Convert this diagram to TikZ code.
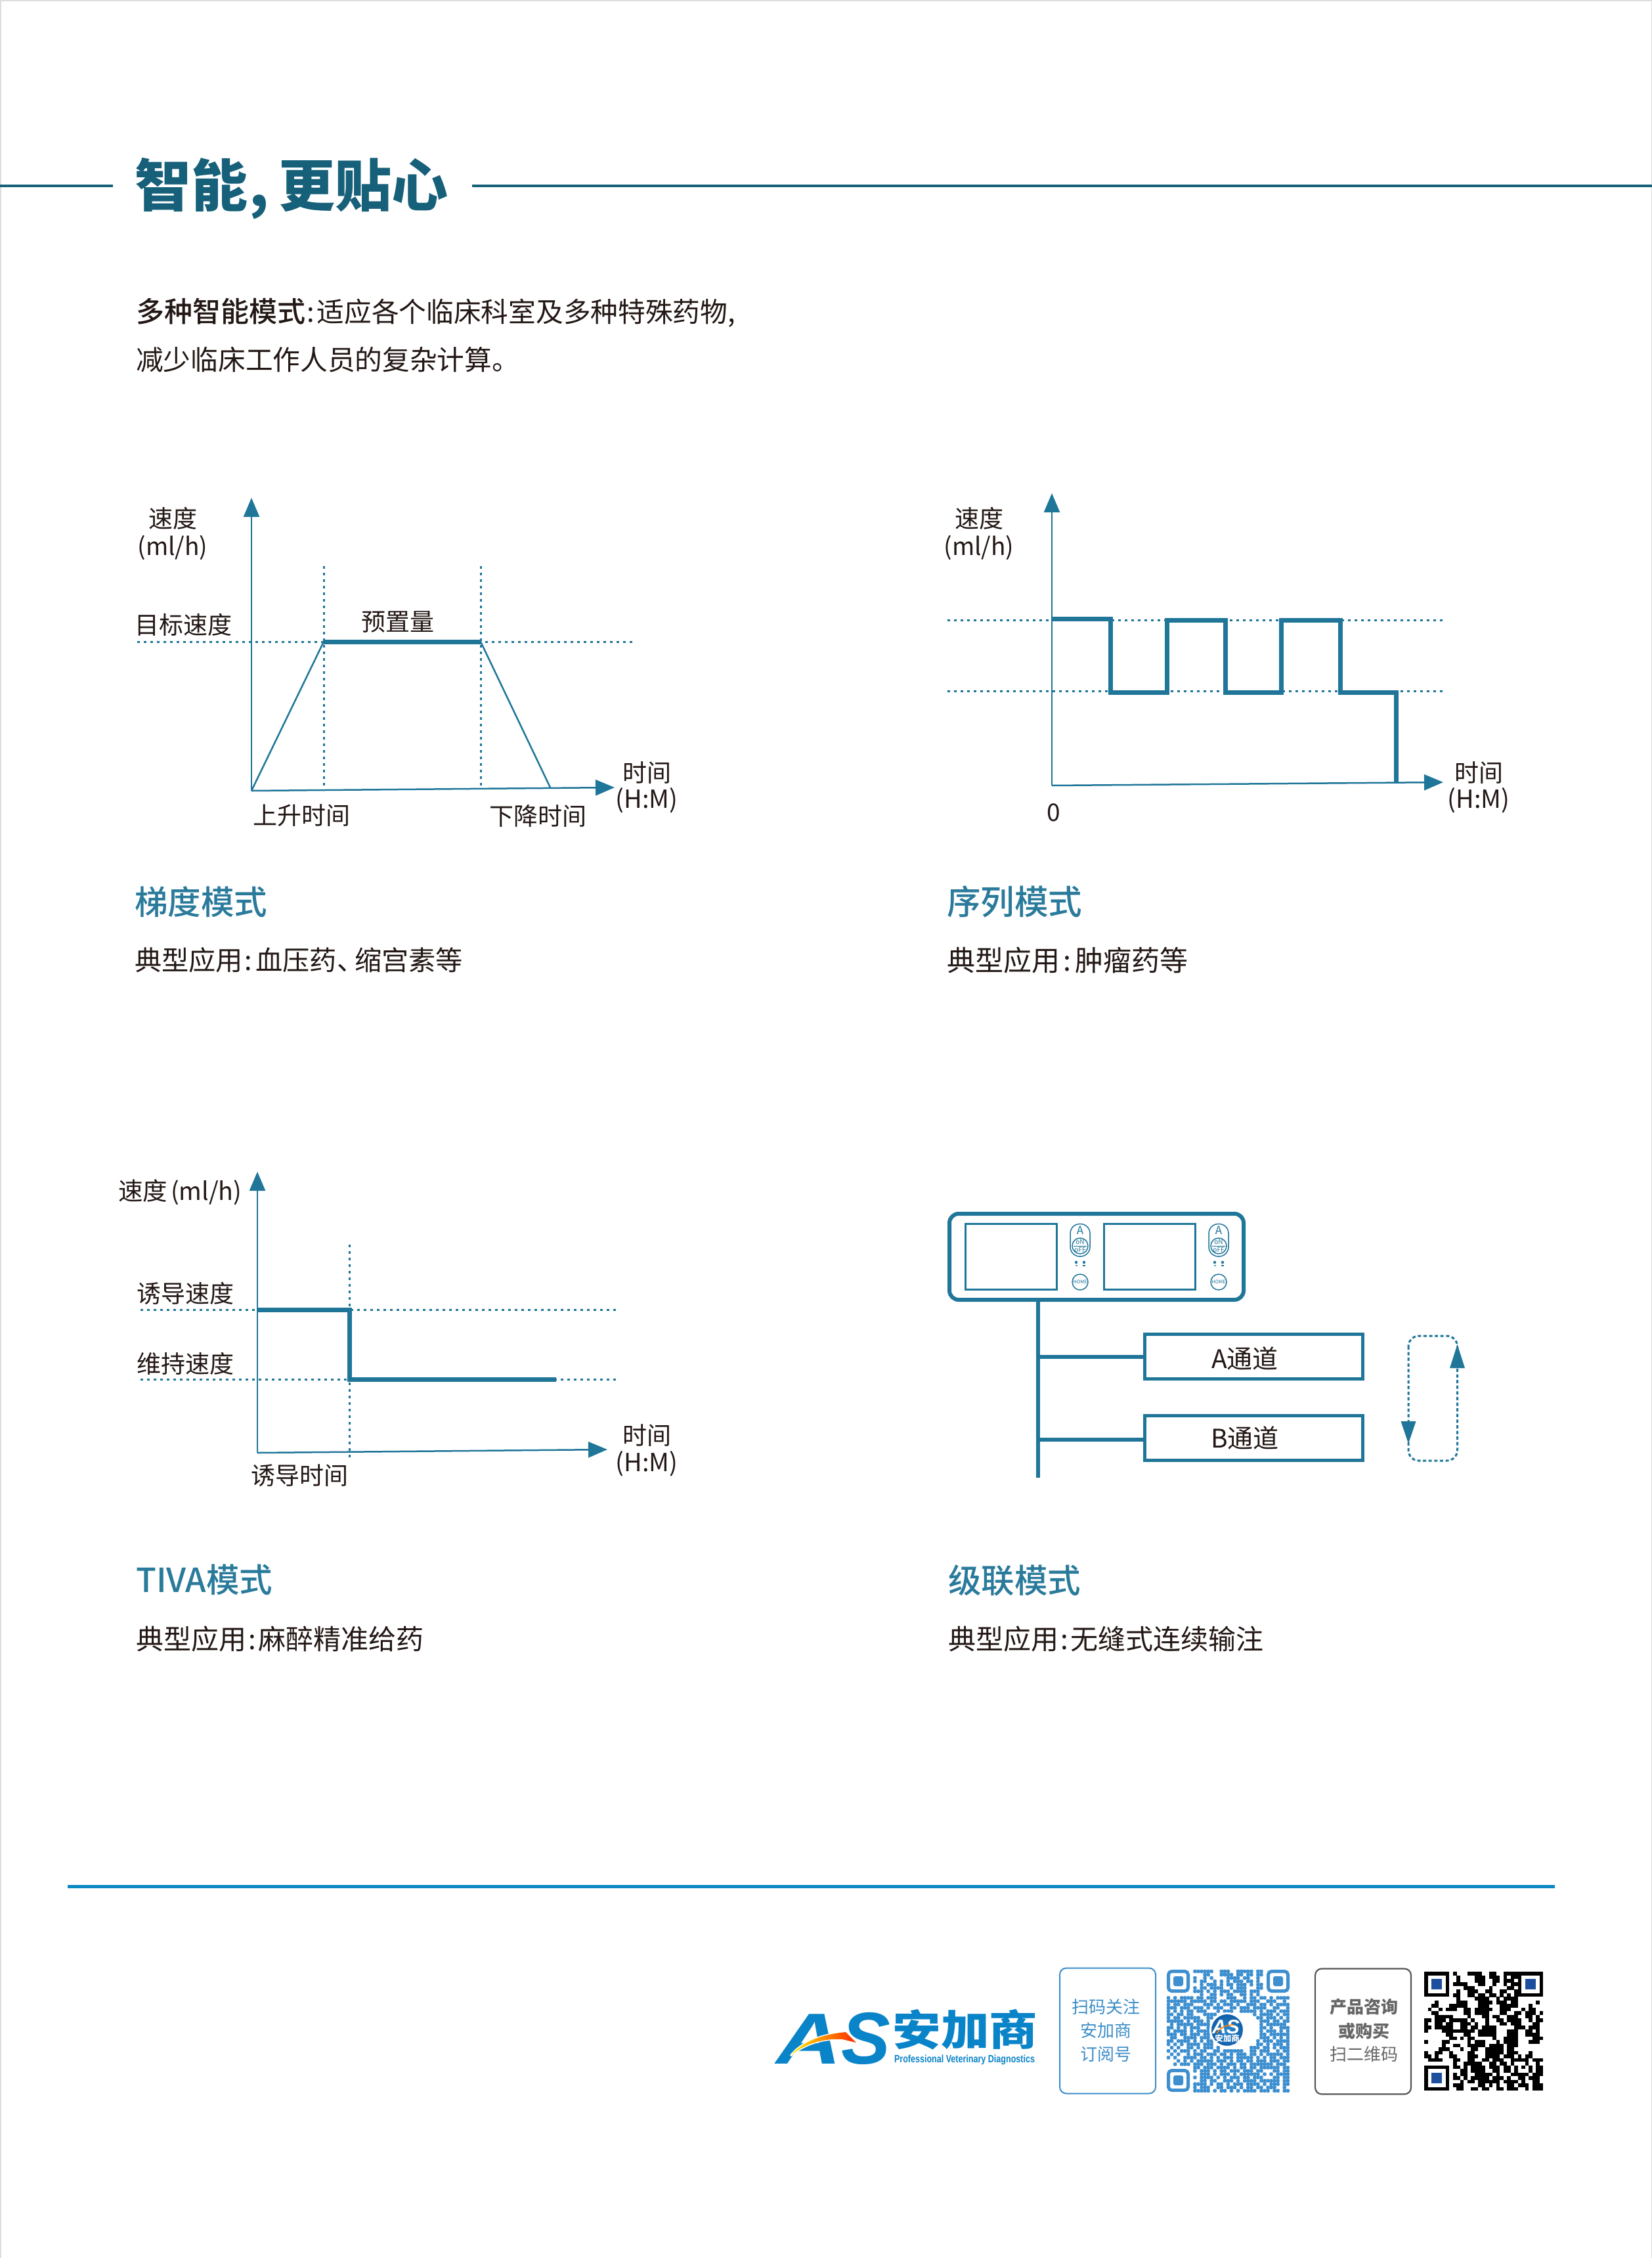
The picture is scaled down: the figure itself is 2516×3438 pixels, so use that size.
\documentclass[tikz,border=0pt]{standalone}
\usepackage{fontspec}
\usepackage{graphicx}
\setmainfont{Noto Sans CJK SC}
\newfontfamily\medf{Noto Sans CJK SC Medium}
\newfontfamily\logof{Liberation Sans}
\usetikzlibrary{arrows.meta,shadings,decorations.text}
\definecolor{chart}{HTML}{1F7699}
\definecolor{titlec}{HTML}{17607A}
\definecolor{headc}{HTML}{2A7A9B}
\definecolor{ink}{HTML}{231815}
\definecolor{rulec}{HTML}{0A89C4}
\definecolor{logoc}{HTML}{0A84C8}
\definecolor{qrc}{HTML}{3D8FCF}
\definecolor{scanc}{HTML}{3C8DC8}
\definecolor{greyc}{HTML}{666666}
\definecolor{edgec}{HTML}{DDDDDD}
\definecolor{qrblue}{HTML}{1D4F9F}
\definecolor{badgein}{HTML}{2C8AD0}
\definecolor{badgeout}{HTML}{105FA8}
\newcommand{\fsz}[1]{\fontsize{#1}{#1}\selectfont}
\newcount\qrc \newcount\qrr
\def\qrputA{\fill (\the\qrc,\the\qrr) rectangle +(1.02,1.02);}
\def\qrputB{\filldraw[line width=.25pt,line join=round,rounded corners=1.2pt] (\the\qrc,\the\qrr) rectangle +(1,1);}
\let\qrput\qrputA
\def\qrscan#1{\ifx#1\relax\else\if x#1\qrput\fi\advance\qrc by1 \expandafter\qrscan\fi}
\def\qrow#1{\qrc=0 \qrscan#1\relax\advance\qrr by1 }
\tikzset{
  lab/.style={inner sep=0pt,text=ink,font=\fsz{37}},
  capt/.style={inner sep=0pt,text=ink,font=\fsz{42},anchor=west},
  head/.style={inner sep=0pt,text=headc,font=\medf\fsz{50.5},anchor=west},
  axisl/.style={draw=chart,line width=2.5pt,-{Triangle[length=29pt,width=24pt]}},
  thin line/.style={draw=chart,line width=2.5pt},
  thick line/.style={draw=chart,line width=7pt,line join=miter},
  dots/.style={draw=chart,line width=3pt,dash pattern=on 3.8pt off 6.2pt},
  devline/.style={draw=chart,line width=6pt},
  chbox/.style={draw=chart,line width=5pt,rectangle,inner sep=0pt,minimum width=332pt,minimum height=68pt,text=ink,font=\fsz{39}},
  screen/.style={draw=chart,line width=3pt,rectangle,inner sep=0pt,minimum width=139pt,minimum height=100pt},
  pill/.style={draw=chart,line width=1.5pt,rounded corners=14.5pt},
  knob/.style={draw=chart,line width=1.5pt,circle,inner sep=0pt,minimum size=24pt},
  devtext/.style={inner sep=0pt,text=chart},
  scanbox/.style={rectangle,rounded corners=10pt,inner sep=0pt,minimum width=146pt,minimum height=191pt},
}
\begin{document}
\begin{tikzpicture}[x=1pt,y=-1pt]
\useasboundingbox (0,0) rectangle (2516,3438);
\fill[white] (0,0) rectangle (2516,3438);
% page edge
\draw[edgec,line width=3pt] (0,3438) -- (0,0) -- (2516,0) -- (2516,3438);

% title
\coordinate (tl0) at (0,283); \coordinate (tl1) at (172,283);
\coordinate (tr0) at (719,283); \coordinate (tr1) at (2516,283);
\draw[titlec,line width=3.5pt] (tl0) -- (tl1);
\draw[titlec,line width=3.5pt] (tr0) -- (tr1);
\node[inner sep=0pt,anchor=west,text=titlec,font=\bfseries\fsz{86}] (title) at (205,287) {智能\kern2pt,\kern15pt更贴心};
\node[inner sep=0pt,anchor=west,text=ink,font=\fsz{41.7}] (intro1) at (207,476) {{\medf\fsz{43}多种智能模式}\kern2pt:\kern4pt适应各个临床科室及多种特殊药物,};
\node[inner sep=0pt,anchor=west,text=ink,font=\fsz{41.7}] (intro2) at (207,548) {减少临床工作人员的复杂计算。};

% gradient mode chart
\coordinate (g0) at (383,1204); \coordinate (gy) at (383,758); \coordinate (gx) at (936,1199);
\coordinate (ga) at (493,977); \coordinate (gb) at (732,977); \coordinate (gc) at (838,1199);
\coordinate (gl) at (209,977); \coordinate (gr) at (968,977);
\coordinate (gat) at (493,862); \coordinate (gab) at (493,1200);
\coordinate (gbt) at (732,862); \coordinate (gbb) at (732,1200);
\draw[dots] (gl) -- (gr);
\draw[dots] (gat) -- (gab);
\draw[dots] (gbt) -- (gbb);
\draw[axisl] (g0) -- (gy);
\draw[axisl] (g0) -- (gx);
\draw[thin line] (g0) -- (ga);
\draw[thin line] (gb) -- (gc);
\draw[thick line] (ga) -- (gb);
\node[lab] (g1) at (263,789) {速度};
\node[lab] (g2) at (263,834) {(ml/h)};
\node[lab,anchor=west] (g3) at (205,951) {目标速度};
\node[lab] (g4) at (606,947) {预置量};
\node[lab,anchor=west] (g5) at (385,1242) {上升时间};
\node[lab,anchor=west] (g6) at (745,1242) {下降时间};
\node[lab] (g7) at (985,1177) {时间};
\node[lab,font=\fsz{38}] (g8) at (985,1219) {(H:M)};
\node[head] (g9) at (205,1373) {梯度模式};
\node[capt,font=\fsz{41.2}] (g10) at (205,1462) {典型应用\kern3pt:\kern5pt血压药、\kern-14pt缩宫素等};

% sequence mode chart
\coordinate (s0) at (1602,1196); \coordinate (sy) at (1602,751); \coordinate (sx) at (2198,1191);
\coordinate (sl1) at (1443,944); \coordinate (sr1) at (2202,944);
\coordinate (sl2) at (1443,1052); \coordinate (sr2) at (2202,1052);
\coordinate (st0) at (1602,942); \coordinate (st1) at (1691,942); \coordinate (st2) at (1691,1054);
\coordinate (st3) at (1777,1054); \coordinate (st4) at (1777,944); \coordinate (st5) at (1866,944);
\coordinate (st6) at (1866,1054); \coordinate (st7) at (1951,1054); \coordinate (st8) at (1951,944);
\coordinate (st9) at (2041,944); \coordinate (st10) at (2041,1054); \coordinate (st11) at (2126,1054);
\coordinate (st12) at (2126,1191);
\draw[dots] (sl1) -- (sr1);
\draw[dots] (sl2) -- (sr2);
\draw[axisl] (s0) -- (sy);
\draw[axisl] (s0) -- (sx);
\draw[thick line] (st0) -- (st1) -- (st2) -- (st3) -- (st4) -- (st5) -- (st6) -- (st7) -- (st8) -- (st9) -- (st10) -- (st11) -- (st12);
\node[lab] (s1) at (1491,789) {速度};
\node[lab] (s2) at (1491,834) {(ml/h)};
\node[lab] (s3) at (1605,1237) {0};
\node[lab] (s4) at (2252,1177) {时间};
\node[lab,font=\fsz{38}] (s5) at (2252,1219) {(H:M)};
\node[head,font=\medf\fsz{51.5}] (s6) at (1442,1373) {序列模式};
\node[capt,font=\fsz{43}] (s7) at (1442,1462) {典型应用\kern5pt:\kern6pt肿瘤药等};

% TIVA chart
\coordinate (t0) at (392,2212); \coordinate (ty) at (392,1784); \coordinate (tx) at (925,2207);
\coordinate (tl1) at (214,1994); \coordinate (tr1) at (939,1994);
\coordinate (tl2) at (214,2100); \coordinate (tr2) at (939,2100);
\coordinate (tvt) at (532,1895); \coordinate (tvb) at (532,2219);
\coordinate (ta) at (392,1994); \coordinate (tb) at (532,1994); \coordinate (tc) at (532,2100); \coordinate (td) at (847,2100);
\draw[dots] (tl1) -- (tr1);
\draw[dots] (tl2) -- (tr2);
\draw[dots] (tvt) -- (tvb);
\draw[axisl] (t0) -- (ty);
\draw[axisl] (t0) -- (tx);
\draw[thick line] (ta) -- (tb) -- (tc) -- (td);
\node[lab,anchor=west,font=\fsz{37.5}] (t1) at (180,1815) {速度\kern5pt(ml/h)};
\node[lab,anchor=west] (t2) at (208,1969) {诱导速度};
\node[lab,anchor=west] (t3) at (208,2076) {维持速度};
\node[lab,anchor=west] (t4) at (382,2247) {诱导时间};
\node[lab] (t5) at (985,2186) {时间};
\node[lab,font=\fsz{38}] (t6) at (985,2229) {(H:M)};
\node[head] (t7) at (207,2405) {TIVA模式};
\node[capt] (t8) at (207,2495) {典型应用\kern3pt:\kern4pt麻醉精准给药};

% cascade chart
\node[draw=chart,line width=6pt,rectangle,rounded corners=14pt,inner sep=0pt,minimum width=448pt,minimum height=131pt] (dev) at (1670,1913.5) {};
\node[screen] (scr1) at (1540,1913.5) {};
\node[screen] (scr2) at (1750.5,1913.5) {};
\foreach \cx/\nm in {1645/a,1856/b}{
  \draw[pill] (\cx-15,1863.5) rectangle (\cx+15,1913);
  \node[knob] (on\nm) at (\cx,1897) {};
  \draw[chart,line width=1pt] (\cx-10,1897) -- (\cx+10,1897);
  \node[devtext,font=\fsz{17}] (ch\nm) at (\cx,1873) {A};
  \node[devtext,font=\fsz{10}] (ont\nm) at (\cx,1891) {oN};
  \node[devtext,font=\fsz{10}] (off\nm) at (\cx,1903) {oFF};
  \fill[chart] (\cx-6,1922) circle (2.2pt);
  \fill[chart] (\cx+6,1922) circle (2.2pt);
  \fill[chart!70] (\cx-7.5,1925.5) rectangle (\cx-4.5,1927.5);
  \fill[chart] (\cx+4,1925.5) rectangle (\cx+8,1927.5);
  \node[knob] (home\nm) at (\cx,1952) {};
  \node[devtext,font=\fsz{7.4}] (homet\nm) at (\cx,1952) {HOME};
}
\node[chbox] (boxa) at (1909,2065.5) {};
\node[chbox] (boxb) at (1909,2189) {};
\node[inner sep=0pt,text=ink,font=\fsz{39}] (boxat) at (1896,2068) {A通道};
\node[inner sep=0pt,text=ink,font=\fsz{39}] (boxbt) at (1896,2189) {B通道};
\coordinate (trk0) at (1580.5,1982); \coordinate (trk1) at (1580.5,2250);
\coordinate (trka) at (1580.5,2065.5); \coordinate (trkb) at (1580.5,2192);
\draw[devline] (trk0) -- (trk1);
\draw[devline] (trka) -- (boxa.west);
\draw[devline] (trkb) -- (trkb -| boxb.west);
\draw[chart,line width=3pt,dash pattern=on 5pt off 3.6pt,rounded corners=16pt] (2145,2034) rectangle (2219.5,2224);
\fill[chart] (2208,2083) -- (2231,2083) -- (2219.5,2047) -- cycle;
\fill[chart] (2133.5,2164) -- (2156.5,2164) -- (2145,2198) -- cycle;
\node[head] (c1) at (1444,2406) {级联模式};
\node[capt] (c2) at (1444,2495) {典型应用\kern3pt:\kern4pt无缝式连续输注};

% footer rule
\coordinate (r0) at (103,2872); \coordinate (r1) at (2368,2872);
\draw[rulec,line width=5pt] (r0) -- (r1);

% logo
\node[inner sep=0pt,anchor=base west,text=logoc,font=\logof\bfseries\itshape\fsz{110}] (logoa) at (1182,3142) {\scalebox{1.25}[1]{A}};
\node[inner sep=0pt,anchor=base west,text=logoc,font=\logof\bfseries\itshape\fsz{112}] (logos) at (1281,3142) {S};
\draw[white,line width=3pt] (1204,3130) .. controls (1218,3112) and (1245,3098) .. (1288,3094) -- (1304,3110) -- (1283,3105) .. controls (1255,3103) and (1225,3112) .. (1204,3130);
\shade[left color=yellow!90!orange,right color=red!70!orange,middle color=orange!90!yellow] (1204,3130) .. controls (1218,3112) and (1245,3098) .. (1288,3094) -- (1304,3110) -- (1283,3105) .. controls (1255,3103) and (1225,3112) .. (1204,3130) -- cycle;
\node[inner sep=0pt,text=logoc,font=\bfseries\fsz{64}] (logocn) at (1470,3090) {\scalebox{1.15}[1]{安加商}};
\node[inner sep=0pt,text=logoc] (logoen) at (1469,3136) {\resizebox*{214pt}{15pt}{\logof\bfseries Professional Veterinary Diagnostics}};

% scan box 1
\node[scanbox,draw=scanc,line width=2pt] (sb1) at (1687,3092) {};
\node[inner sep=0pt,text=scanc,font=\fsz{26}] (sb1a) at (1684.5,3056) {扫码关注};
\node[inner sep=0pt,text=scanc,font=\fsz{26}] (sb1b) at (1684.5,3092) {安加商};
\node[inner sep=0pt,text=scanc,font=\fsz{26}] (sb1c) at (1684.5,3128) {订阅号};

% blue code
\begin{scope}[shift={(1777,2999)},x=5.05pt,y=-5.05pt,qrc,fill=qrc,draw=qrc]
\let\qrput\qrputB
\qrr=0
\qrow{........xxxxxx..xxx..xxxxx.xx}
\qrow{...........xx...xxxx.xx.xx.xx}
\qrow{........x..x.x....xxxx.xx..x}
\qrow{........x.xx..x.x.x.xxx.xx.x}
\qrow{..........x.xxx.x.xx.xxx.x.xx}
\qrow{........x.xx.xxxx..x.xxx...xx}
\qrow{........xxx.x.x.xxx.xxxx.xxx}
\qrow{..........x..xx.x.xx..xx.x.x}
\qrow{x.x.xxxx.xx.xxx...xxx..x.xx.xx.x.xxxx}
\qrow{xxxxxx.xxxxx.xx.xx.xxxxx.xxx..xxx..x.}
\qrow{x.xx.xxx...xxx.x.xxx.x..xxx.xx.x.xxxx}
\qrow{xxx.xxx.xxx.x.xxx..xx.xxx.xxxx..xx..x}
\qrow{x.x.x.xx.xxx...x.xxx..xxxxx.x.xxx.xxx}
\qrow{xx.xx.xx...xxxx...........x.xxxx.x.xx}
\qrow{x.xx.xxxxx..xx.............xx.xxx.x.x}
\qrow{xxxxx.x.xxx.x...............xxx.xx.xx}
\qrow{.x.xxxxx.xxxx...............x.xxxxxx.}
\qrow{xx.x.x.xxx..x...............xx.x..xxx}
\qrow{x.xxxx.x.xxxx...............x.xxx.x.x}
\qrow{xxx.xx.xxx.xx...............xx.xxxxxx}
\qrow{.xx..xxxx.xxx...............xxx.x.x.x}
\qrow{xx.xxxx.x.x.xx.............x.xxx.xxxx}
\qrow{x.x.x.xxxx.xxx.............xx.x.xxx.x}
\qrow{.x.x..xx.x.xxx.x.........xxx.xx.x.xxx}
\qrow{x.x.xxx.x.xx..xx.xxxxxx..xx.xxx..x.xx}
\qrow{.x.x..x.xxx.xxx.xx.x.xxx.xx.x.xxxxx.x}
\qrow{x.x..xxxx.xx.x.x.xxx.xxxxx.x.x.xx.xxx}
\qrow{...x.x.x.xxxxx.xxx.x.xx.xx.xxx.xxx.xx}
\qrow{..x.xxx.xxx.xxx.x.xxx.xx.xxxxxxx.xxx.}
\qrow{........xx.xxx.xxxx.x.xx.xx.xxxxxx.xx}
\qrow{........x.xxx.x.xx.xxx.xxx.xx...xx.xx}
\qrow{..........xxx.x.xxx.x.xxxxxx.x.x.xxxx}
\qrow{........x.xxxx.x.x.xxx.xx.xxx...xx.xx}
\qrow{..........xx.xx..xxx.x.xxxx.xxxxxx.xx}
\qrow{........xxxx.x.xx.x.xxx.xxxx.x.xxx.xx}
\qrow{........x.xxx..xx.xxx.x.xx.xx.xxx..x.}
\qrow{........xxxxx.x.xx.x.x.xxxx.xxx.xx.xx}
\end{scope}
\foreach \fx/\fy in {1777/2999,1929/2999,1777/3150}{
  \draw[qrc,line width=5pt,rounded corners=5pt] (\fx+2.5,\fy+2.5) rectangle (\fx+32.5,\fy+32.5);
  \fill[qrc,rounded corners=3pt] (\fx+10,\fy+10) rectangle (\fx+25,\fy+25);
}
% badge
\fill[white] (1869,3091) circle (27pt);
\shade[inner color=badgein,outer color=badgeout] (1869,3091) circle (24pt);
\path[decorate,decoration={text along path,text align=center,raise=-5pt,text={|\logof\fsz{4.6}\color{white}|Professional Veterinary Diagnostics}}] (1848,3085) arc[start angle=196,end angle=-16,x radius=21.5pt,y radius=-21.5pt];
\node[inner sep=0pt,text=white,font=\logof\bfseries\itshape\fsz{30}] (badgeas) at (1867,3086) {AS};
\draw[orange,line width=1.6pt] (1853,3096) .. controls (1859,3087) and (1867,3083) .. (1879,3083);
\node[inner sep=0pt,text=white,font=\bfseries\fsz{12.5}] (badgecn) at (1869,3104) {安加商};

% scan box 2
\node[scanbox,draw=greyc!85!black,line width=2.2pt] (sb2) at (2076,3093) {};
\node[inner sep=0pt,text=greyc,font=\bfseries\fsz{26}] (sb2a) at (2077,3056) {产品咨询};
\node[inner sep=0pt,text=greyc,font=\bfseries\fsz{26}] (sb2b) at (2077,3093) {或购买};
\node[inner sep=0pt,text=greyc,font=\fsz{26}] (sb2c) at (2077,3128) {扫二维码};

% black code
\begin{scope}[shift={(2169,3002)},x=5.485pt,y=-5.485pt,fill=black]
\let\qrput\qrputA
\qrr=0
\qrow{........x...xxxx..xx..xxxx}
\qrow{.........x....xxx.xxx.x.xxx}
\qrow{.........x....xxx..xx.xxx}
\qrow{........xxxx...xx..x..x.xx}
\qrow{...........xxx....x....xx}
\qrow{.........x..xxx..xx..xx..x}
\qrow{........xx..xx.xx.xx.x.x.x}
\qrow{.........x....xxxx..x.xxxx}
\qrow{...x.....xxx...xxxx.xxx.xx.....x}
\qrow{..xx...xxxxx...xxx...xxxxx...x}
\qrow{.x..x.xxx..xx.xxxxx..xxx...x.xx..}
\qrow{..xx.......xx.xxxx...xx..xx.xxx.x}
\qrow{...xxxxx....x...xx.xx..xxx..xx.x.}
\qrow{xx.xxx.xxxxx.x...x..xx.xxxx..x.xx}
\qrow{x..xx.xx..xxx.x..x...xx.xxx...xx.}
\qrow{xx.xxxxx..xx.xx.xxxx.....xxx.xxx.}
\qrow{x....xxxxxxxxx.xxxxx...xxx..xx.x.}
\qrow{......xx...xx..xxxxx...xxx..xxxx.}
\qrow{.......xx.x.xx.....x..xxxx....xxx}
\qrow{x....xx.....x.xxx...x.xxxx...xxx.}
\qrow{.....x..xx..xxxxx.xxxx.xxx.......}
\qrow{....xxx...x..xx..xxxxx.xx........}
\qrow{x..xx..x....xx...xxxxx.xxx...x...}
\qrow{xx.x...xx...xxx..xxxx.xxx.x.xx...}
\qrow{.xxxx...xx..xx..xx.xxx..xxxxx.xxx}
\qrow{........x..xxxxx..xx.xx.x...x..x.}
\qrow{........xx.x.xxxx.xxx.xx.x.x.x.xx}
\qrow{..........xx.xxxx..xx.xx.x...x.xx}
\qrow{........x.xx..xxxxx.x...xxxxx.xxx}
\qrow{........xx.x.xxxxx.xxx.x..xx.xxx.}
\qrow{..........x.xx.xxxxxx.xxxx.x..xx.}
\qrow{........xxx....xx.x.x..xx.xxx.xxx}
\qrow{.........xx..xx.xx..xx.xxx..x.xxx}
\end{scope}
\foreach \fx/\fy in {2169/3002,2311.6/3002,2169/3144.6}{
  \fill[black] (\fx,\fy) rectangle (\fx+38.4,\fy+38.4);
  \fill[white] (\fx+5.5,\fy+5.5) rectangle (\fx+32.9,\fy+32.9);
  \fill[qrblue] (\fx+11,\fy+11) rectangle (\fx+27.4,\fy+27.4);
}
\end{tikzpicture}
\end{document}
